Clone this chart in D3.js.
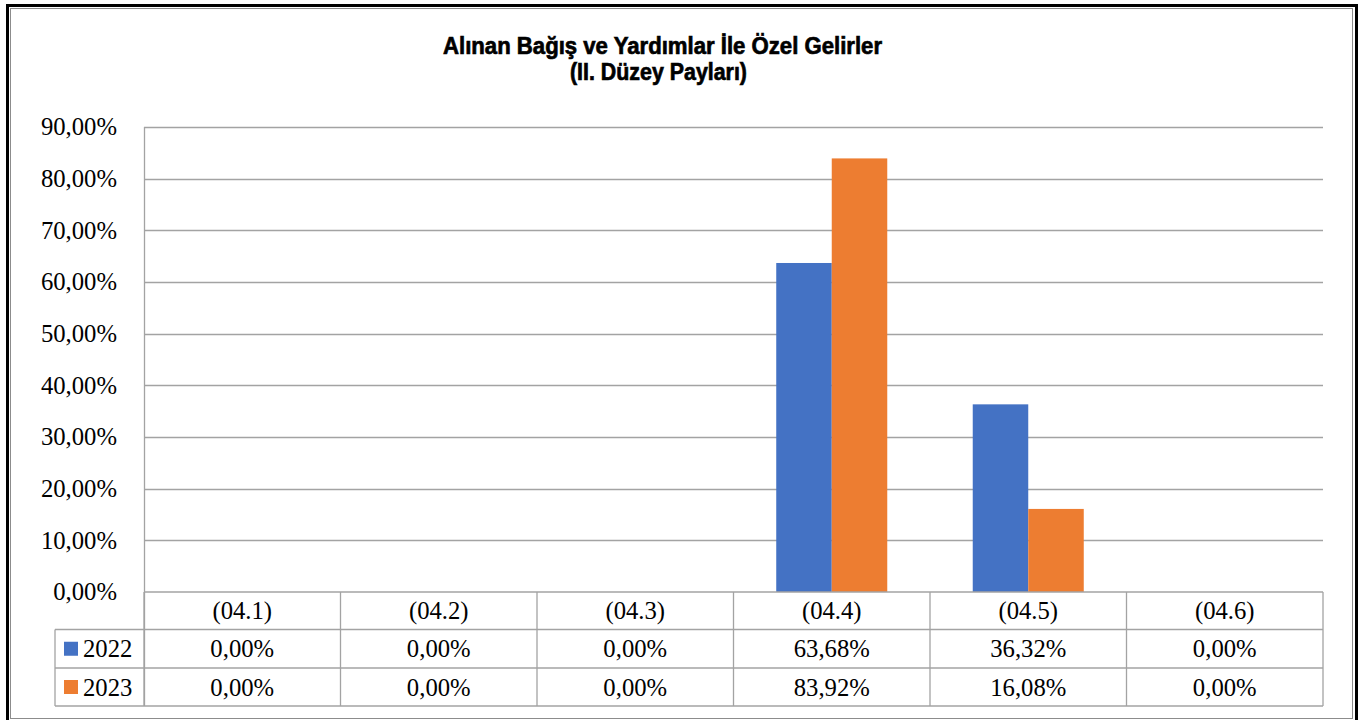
<!DOCTYPE html>
<html>
<head>
<meta charset="utf-8">
<script src="https://cdn.jsdelivr.net/npm/d3@7"></script>
<style>
  html, body { margin: 0; padding: 0; background: #fff; }
  svg { display: block; }
</style>
</head>
<body>
<svg id="chart" width="1359" height="720"></svg>
<script>
// ---- data ----
const categories = ["(04.1)", "(04.2)", "(04.3)", "(04.4)", "(04.5)", "(04.6)"];
const seriesNames = ["2022", "2023"];
const values2022 = [0, 0, 0, 63.68, 36.32, 0];
const values2023 = [0, 0, 0, 83.92, 16.08, 0];
const yTicks = [0, 10, 20, 30, 40, 50, 60, 70, 80, 90];
const titleLines = ["Alınan Bağış ve Yardımlar İle Özel Gelirler", "(II. Düzey Payları)"];
const seriesColors = ["#4472C4", "#ED7D31"];

const seriesValues = [values2022, values2023];
const fmt = v => v.toFixed(2).replace(".", ",") + "%";

const svg = d3.select("#chart");
const plot = { left: 144, right: 1323, top: 127, bottom: 592 };
const rowLines = [592, 629.5, 668, 706];
const legendLeft = 55;
const gridColor = "#a3a3a3";
const serif = "'Liberation Serif', 'Times New Roman', serif";

// frames
svg.append("rect").attr("x", 7.5).attr("y", 5.5).attr("width", 1349).attr("height", 720)
  .attr("fill", "none").attr("stroke", "#000").attr("stroke-width", 3);
svg.append("rect").attr("x", 10.5).attr("y", 8.5).attr("width", 1342).attr("height", 710)
  .attr("fill", "none").attr("stroke", "#8c8c8c").attr("stroke-width", 1);

// title
const titleG = svg.append("g").attr("font-family", "'Liberation Sans Narrow', 'Liberation Sans', Arial, sans-serif")
  .attr("font-weight", "bold").attr("font-size", 24.5).attr("fill", "#000")
  .attr("stroke", "#000").attr("stroke-width", 0.7);
const titleSpecs = [{ x: 443, y: 54, len: 439 }, { x: 570, y: 79.5, len: 177 }];
titleLines.forEach((t, i) => {
  titleG.append("text").attr("x", titleSpecs[i].x).attr("y", titleSpecs[i].y)
    .attr("textLength", titleSpecs[i].len).attr("lengthAdjust", "spacingAndGlyphs")
    .text(t);
});

// scales
const y = d3.scaleLinear().domain([0, 90]).range([plot.bottom, plot.top]);
const x0 = d3.scaleBand().domain(categories).range([plot.left, plot.right]).padding(0);
const x1 = d3.scaleBand().domain(seriesNames).range([0, x0.bandwidth()]).paddingInner(0).paddingOuter(0.77);

// gridlines
svg.append("g").selectAll("line").data(yTicks.filter(d => d > 0)).join("line")
  .attr("x1", plot.left).attr("x2", plot.right)
  .attr("y1", d => Math.round(y(d)) + 0.5).attr("y2", d => Math.round(y(d)) + 0.5)
  .attr("stroke", gridColor).attr("stroke-width", 1.3);

// y axis labels
const yAxis = d3.axisLeft(y).tickValues(yTicks).tickFormat(fmt).tickSize(0).tickPadding(27);
const yG = svg.append("g").attr("transform", `translate(${plot.left},0)`).call(yAxis);
yG.select(".domain").remove();
yG.selectAll("text").attr("font-family", serif).attr("font-size", 24.7).attr("fill", "#000");

// bars
const barG = svg.append("g");
seriesNames.forEach((s, si) => {
  barG.append("g").selectAll("rect").data(categories.map((c, i) => ({ c, v: seriesValues[si][i] })).filter(d => d.v > 0))
    .join("rect")
    .attr("x", d => x0(d.c) + x1(s))
    .attr("width", x1.bandwidth())
    .attr("y", d => y(d.v))
    .attr("height", d => y(0) - y(d.v))
    .attr("fill", seriesColors[si]);
});

// table grid
const tg = svg.append("g").attr("stroke", gridColor).attr("stroke-width", 1.3);
tg.append("line").attr("x1", plot.left + 0.5).attr("x2", plot.left + 0.5).attr("y1", plot.top).attr("y2", rowLines[3]);
rowLines.forEach((ry, i) => {
  tg.append("line").attr("x1", i === 0 ? plot.left : legendLeft).attr("x2", plot.right)
    .attr("y1", ry).attr("y2", ry);
});
const bounds = categories.map(c => x0(c)).concat([plot.right]);
bounds.forEach(bx => {
  tg.append("line").attr("x1", bx).attr("x2", bx).attr("y1", rowLines[0]).attr("y2", rowLines[3]);
});
tg.append("line").attr("x1", legendLeft).attr("x2", legendLeft).attr("y1", rowLines[1]).attr("y2", rowLines[3]);

// table text
const tt = svg.append("g").attr("font-family", serif).attr("font-size", 24.7).attr("fill", "#000")
  .attr("text-anchor", "middle").attr("dominant-baseline", "central");
categories.forEach(c => {
  tt.append("text").attr("x", x0(c) + x0.bandwidth() / 2).attr("y", (rowLines[0] + rowLines[1]) / 2).text(c);
});
seriesNames.forEach((s, si) => {
  const cy = (rowLines[si + 1] + rowLines[si + 2]) / 2;
  categories.forEach((c, i) => {
    tt.append("text").attr("x", x0(c) + x0.bandwidth() / 2).attr("y", cy).text(fmt(seriesValues[si][i]));
  });
  svg.append("rect").attr("x", 64).attr("y", cy - 7).attr("width", 14).attr("height", 14).attr("fill", seriesColors[si]);
  svg.append("text").attr("x", 83).attr("y", cy).attr("dominant-baseline", "central")
    .attr("font-family", serif).attr("font-size", 24.7).attr("fill", "#000").text(s);
});
</script>
</body>
</html>
